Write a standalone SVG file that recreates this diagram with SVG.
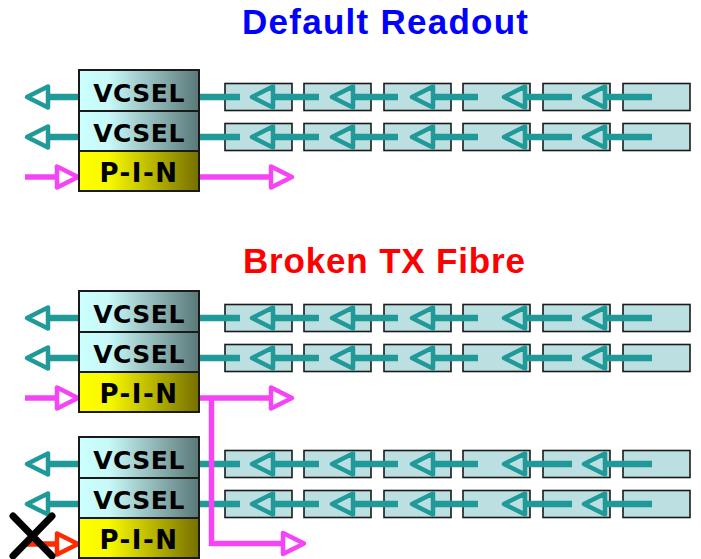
<svg xmlns="http://www.w3.org/2000/svg" xmlns:xlink="http://www.w3.org/1999/xlink" width="701" height="559" viewBox="0 0 701 559">
<style>
.title{font-family:"Liberation Sans",Arial,sans-serif;font-weight:bold;font-size:35px;text-anchor:middle}
.lbl{font-family:"DejaVu Sans",Verdana,sans-serif;font-weight:bold;font-size:25px;text-anchor:middle;fill:#000}
.pin{font-size:26px;letter-spacing:1.5px}
.vc{letter-spacing:0.5px}
.box{stroke:#1a1a1a;stroke-width:2}
.fib{fill:#bcdfe2;stroke:#1a1a1a;stroke-width:1.6}
.tl{stroke:#209999;stroke-width:6.5;fill:none}
.th{stroke:#209999;stroke-width:4.5;fill:none;stroke-linejoin:round}
.mg{stroke:#f544f5;stroke-width:5.5;fill:none}
.mh{stroke:#f544f5;stroke-width:4.5;fill:none;stroke-linejoin:round}
.rd{stroke:#ff2a00;stroke-width:5.5;fill:none}
.rh{stroke:#ff2a00;stroke-width:4.5;fill:none;stroke-linejoin:round}
</style>
<defs>
<linearGradient id="gV" x1="0" y1="0" x2="1" y2="0">
<stop offset="0" stop-color="#ccffff"/>
<stop offset="0.25" stop-color="#c8f8f8"/>
<stop offset="1" stop-color="#5a7878"/>
</linearGradient>
<linearGradient id="gP" x1="0" y1="0" x2="1" y2="0">
<stop offset="0" stop-color="#ffff00"/>
<stop offset="0.25" stop-color="#f8f800"/>
<stop offset="1" stop-color="#767000"/>
</linearGradient>
<g id="fibreRow">
<rect class="fib" x="225" y="-13.5" width="67" height="27"/>
<rect class="fib" x="304" y="-13.5" width="67" height="27"/>
<rect class="fib" x="384" y="-13.5" width="67" height="27"/>
<rect class="fib" x="463" y="-13.5" width="67" height="27"/>
<rect class="fib" x="543" y="-13.5" width="67" height="27"/>
<rect class="fib" x="623" y="-13.5" width="67" height="27"/>
<path class="tl" d="M199,0H240M273,0H319M353,0H398M433,0H478M525,0H572M605,0H652"/>
<path class="th" d="M252,0L273,-10.5V10.5ZM332,0L353,-10.5V10.5ZM412,0L433,-10.5V10.5ZM504,0L525,-10.5V10.5ZM584,0L605,-10.5V10.5Z"/>
</g>
<g id="txLeft">
<path class="tl" d="M48,0H80"/>
<path class="th" d="M27,0L48,-10.5V10.5Z" fill="#fff"/>
</g>
</defs>

<text class="title" x="385" y="34" fill="#0000ff" textLength="286" lengthAdjust="spacing">Default Readout</text>
<text class="title" x="384" y="273" fill="#ff0000" textLength="282" lengthAdjust="spacing">Broken TX Fibre</text>

<g id="connectors">
<!-- section 1 -->
<use xlink:href="#fibreRow" transform="translate(0,97)"/>
<use xlink:href="#fibreRow" transform="translate(0,137)"/>
<use xlink:href="#txLeft" transform="translate(0,97)"/>
<use xlink:href="#txLeft" transform="translate(0,137)"/>
<path class="mg" d="M25,177H57"/>
<path class="mh" d="M78,177L57,166.5V187.5Z"/>
<path class="mg" d="M199,177H271"/>
<path class="mh" d="M292,177L271,166.5V187.5Z"/>
<!-- section 2 -->
<use xlink:href="#fibreRow" transform="translate(0,318)"/>
<use xlink:href="#fibreRow" transform="translate(0,358)"/>
<use xlink:href="#txLeft" transform="translate(0,318)"/>
<use xlink:href="#txLeft" transform="translate(0,358)"/>
<path class="mg" d="M25,398H57"/>
<path class="mh" d="M78,398L57,387.5V408.5Z"/>
<!-- section 3 -->
<use xlink:href="#fibreRow" transform="translate(0,464)"/>
<use xlink:href="#fibreRow" transform="translate(0,504)"/>
<use xlink:href="#txLeft" transform="translate(0,464)"/>
<use xlink:href="#txLeft" transform="translate(0,504)"/>
<path class="rd" d="M25,544H57"/>
<path class="rh" d="M78,544L57,533.5V554.5Z"/>
<!-- magenta split -->
<path class="mg" d="M199,398H271"/>
<path class="mh" d="M292,398L271,387.5V408.5Z"/>
<path class="mg" d="M211.5,398V543.5H283"/>
<path class="mh" d="M304,543.5L283,533V554Z"/>
</g>

<g id="module1">
<rect class="box" x="79" y="70" width="120" height="41" fill="url(#gV)"/>
<rect class="box" x="79" y="111" width="120" height="40" fill="url(#gV)"/>
<rect class="box" x="79" y="151" width="120" height="40" fill="url(#gP)"/>
<text class="lbl vc" x="139" y="102">VCSEL</text>
<text class="lbl vc" x="139" y="142">VCSEL</text>
<text class="lbl pin" x="139" y="182">P-I-N</text>
</g>

<g id="module2">
<rect class="box" x="79" y="291" width="120" height="41" fill="url(#gV)"/>
<rect class="box" x="79" y="332" width="120" height="40" fill="url(#gV)"/>
<rect class="box" x="79" y="372" width="120" height="40" fill="url(#gP)"/>
<text class="lbl vc" x="139" y="323">VCSEL</text>
<text class="lbl vc" x="139" y="363">VCSEL</text>
<text class="lbl pin" x="139" y="403">P-I-N</text>
</g>

<g id="module3">
<rect class="box" x="79" y="437" width="120" height="41" fill="url(#gV)"/>
<rect class="box" x="79" y="478" width="120" height="40" fill="url(#gV)"/>
<rect class="box" x="79" y="518" width="120" height="40" fill="url(#gP)"/>
<text class="lbl vc" x="139" y="469">VCSEL</text>
<text class="lbl vc" x="139" y="509">VCSEL</text>
<text class="lbl pin" x="139" y="549">P-I-N</text>
</g>

<g id="break">
<path d="M13,516L52,556M52,516L13,556" stroke="#000" stroke-width="7" stroke-linecap="round" fill="none"/>
</g>
</svg>
